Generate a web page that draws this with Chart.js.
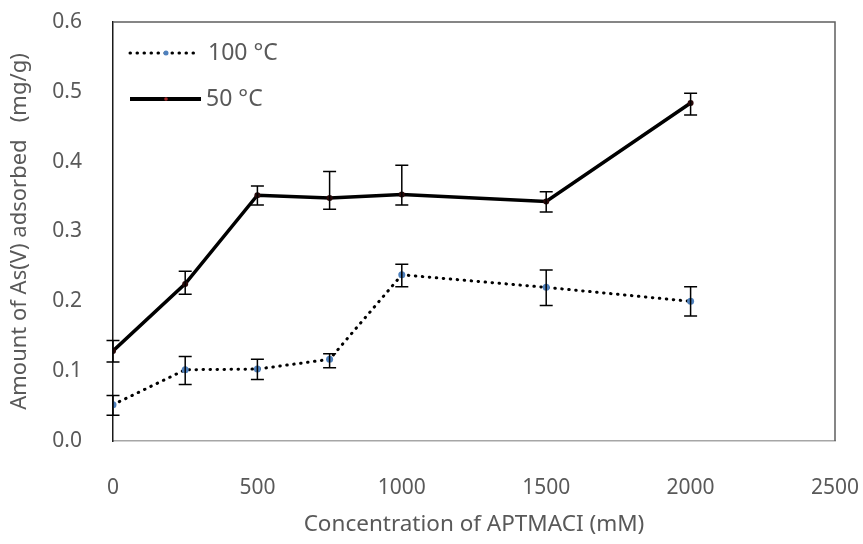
<!DOCTYPE html>
<html>
<head>
<meta charset="utf-8">
<script src="https://cdn.jsdelivr.net/npm/chart.js@4"></script>
<style>
  html, body { margin: 0; padding: 0; background: #fff; }
  #wrap { width: 863px; height: 544px; }
</style>
</head>
<body>
<div id="wrap"><canvas id="chart" width="863" height="544"></canvas></div>
<script>
// 濃度 (mM)
var concentrations = [0, 250, 500, 750, 1000, 1500, 2000];
// 100 °C
var ads100 = [0.052, 0.102, 0.103, 0.117, 0.238, 0.220, 0.200];
var err100Up = [0.013, 0.019, 0.014, 0.008, 0.015, 0.025, 0.021];
var err100Down = [0.015, 0.021, 0.015, 0.012, 0.017, 0.026, 0.021];
// 50 °C
var ads50 = [0.129, 0.225, 0.352, 0.348, 0.353, 0.343, 0.484];
var err50Up = [0.015, 0.018, 0.013, 0.038, 0.042, 0.014, 0.014];
var err50Down = [0.016, 0.015, 0.014, 0.016, 0.015, 0.015, 0.017];

var seriesLabels = ["100 °C", "50 °C"];
var xTicks = [0, 500, 1000, 1500, 2000, 2500];
var yTicks = [0, 0.1, 0.2, 0.3, 0.4, 0.5, 0.6];

var fontFamily = "'Noto Sans', 'Open Sans', sans-serif";
var textColor = "#595959";

function toPoints(xs, ys) {
    return xs.map(function (x, i) { return { x: x, y: ys[i] }; });
}

// エラーバー・枠・凡例
var extrasPlugin = {
    id: 'extras',
    afterDatasetsDraw: function (chart) {
        var ctx = chart.ctx;
        var xs = chart.scales.x, ys = chart.scales.y;
        var errs = [[err100Up, err100Down], [err50Up, err50Down]];
        var vals = [ads100, ads50];
        ctx.save();
        ctx.strokeStyle = "#000";
        ctx.lineWidth = 1.5;
        var cap = 6.5;
        for (var s = 0; s < 2; s++) {
            concentrations.forEach(function (c, i) {
                var px = xs.getPixelForValue(c);
                var top = ys.getPixelForValue(vals[s][i] + errs[s][0][i]);
                var bot = ys.getPixelForValue(vals[s][i] - errs[s][1][i]);
                ctx.beginPath();
                ctx.moveTo(px, top); ctx.lineTo(px, bot);
                ctx.moveTo(px - cap, top); ctx.lineTo(px + cap, top);
                ctx.moveTo(px - cap, bot); ctx.lineTo(px + cap, bot);
                ctx.stroke();
            });
        }
        ctx.restore();
    },
    afterDraw: function (chart) {
        var ctx = chart.ctx;
        var a = chart.chartArea;
        ctx.save();
        // 上と右の枠
        ctx.strokeStyle = "#5f5f5f";
        ctx.lineWidth = 1.5;
        ctx.beginPath();
        ctx.moveTo(a.left, a.top);
        ctx.lineTo(a.right, a.top);
        ctx.lineTo(a.right, a.bottom);
        ctx.stroke();

        // 凡例
        var lx0 = a.left + 17, lx1 = a.left + 84, mx = a.left + 53;
        var y1 = a.top + 31, y2 = a.top + 77;
        ctx.strokeStyle = "#000";
        ctx.lineCap = "round";
        ctx.lineWidth = 3;
        ctx.setLineDash([0.5, 6.5]);
        ctx.beginPath(); ctx.moveTo(lx0, y1); ctx.lineTo(lx1 - 2, y1); ctx.stroke();
        ctx.setLineDash([]);
        ctx.lineCap = "butt";
        ctx.lineWidth = 4;
        ctx.beginPath(); ctx.moveTo(lx0, y2); ctx.lineTo(lx1 + 4, y2); ctx.stroke();
        ctx.fillStyle = "#4f81bd";
        ctx.beginPath(); ctx.arc(mx, y1, 2.5, 0, Math.PI * 2); ctx.fill();
        ctx.fillStyle = "#a02828";
        ctx.beginPath(); ctx.arc(mx, y2, 1.8, 0, Math.PI * 2); ctx.fill();

        ctx.fillStyle = textColor;
        ctx.font = "23px " + fontFamily;
        ctx.textBaseline = "middle";
        ctx.textAlign = "left";
        ctx.fillText(seriesLabels[0], a.left + 95, y1);
        ctx.fillText(seriesLabels[1], a.left + 93, y2);
        ctx.restore();
    }
};

new Chart(document.getElementById('chart').getContext('2d'), {
    type: 'scatter',
    data: {
        datasets: [{
            label: seriesLabels[0],
            data: toPoints(concentrations, ads100),
            showLine: true,
            borderColor: "#000",
            borderWidth: 3,
            borderDash: [0.5, 6.5],
            borderCapStyle: 'round',
            pointRadius: 3.5,
            pointBackgroundColor: "#4f81bd",
            pointBorderWidth: 0
        }, {
            label: seriesLabels[1],
            data: toPoints(concentrations, ads50),
            showLine: true,
            borderColor: "#000",
            borderWidth: 3.5,
            pointRadius: 3,
            pointBackgroundColor: "#2a0a0a",
            pointBorderWidth: 0
        }]
    },
    options: {
        responsive: false,
        animation: false,
        layout: { padding: { top: 22, right: 28, left: 0, bottom: 0 } },
        plugins: {
            legend: { display: false },
            tooltip: { enabled: false }
        },
        scales: {
            x: {
                type: 'linear',
                min: 0,
                max: 2500,
                afterBuildTicks: function (scale) {
                    scale.ticks = xTicks.map(function (v) { return { value: v }; });
                },
                afterFit: function (scale) {
                    scale.height = 103;
                    scale.paddingLeft = 0;
                    scale.paddingRight = 0;
                },
                grid: { display: false, drawTicks: false },
                border: { color: "#a6a6a6", width: 1.5 },
                ticks: {
                    padding: 34,
                    color: textColor,
                    font: { family: fontFamily, size: 21 },
                    maxRotation: 0,
                    callback: function (v) { return String(v); }
                },
                title: {
                    display: true,
                    text: "Concentration of APTMACI (mM)",
                    color: textColor,
                    font: { family: fontFamily, size: 22.5 },
                    padding: { top: 0, bottom: 6 }
                }
            },
            y: {
                min: 0,
                max: 0.6,
                afterBuildTicks: function (scale) {
                    scale.ticks = yTicks.map(function (v) { return { value: v }; });
                },
                afterFit: function (scale) {
                    scale.width = 113;
                    scale.paddingTop = 0;
                    scale.paddingBottom = 0;
                },
                grid: { display: false, drawTicks: false },
                border: { color: "#1a1a1a", width: 1.5 },
                ticks: {
                    padding: 31,
                    color: textColor,
                    font: { family: fontFamily, size: 21 },
                    callback: function (v) { return Number(v).toFixed(1); }
                },
                title: {
                    display: true,
                    text: "Amount of As(V) adsorbed   (mg/g)",
                    color: textColor,
                    font: { family: fontFamily, size: 22 },
                    padding: { top: 7, bottom: 0 }
                }
            }
        }
    },
    plugins: [extrasPlugin]
});
</script>
</body>
</html>
